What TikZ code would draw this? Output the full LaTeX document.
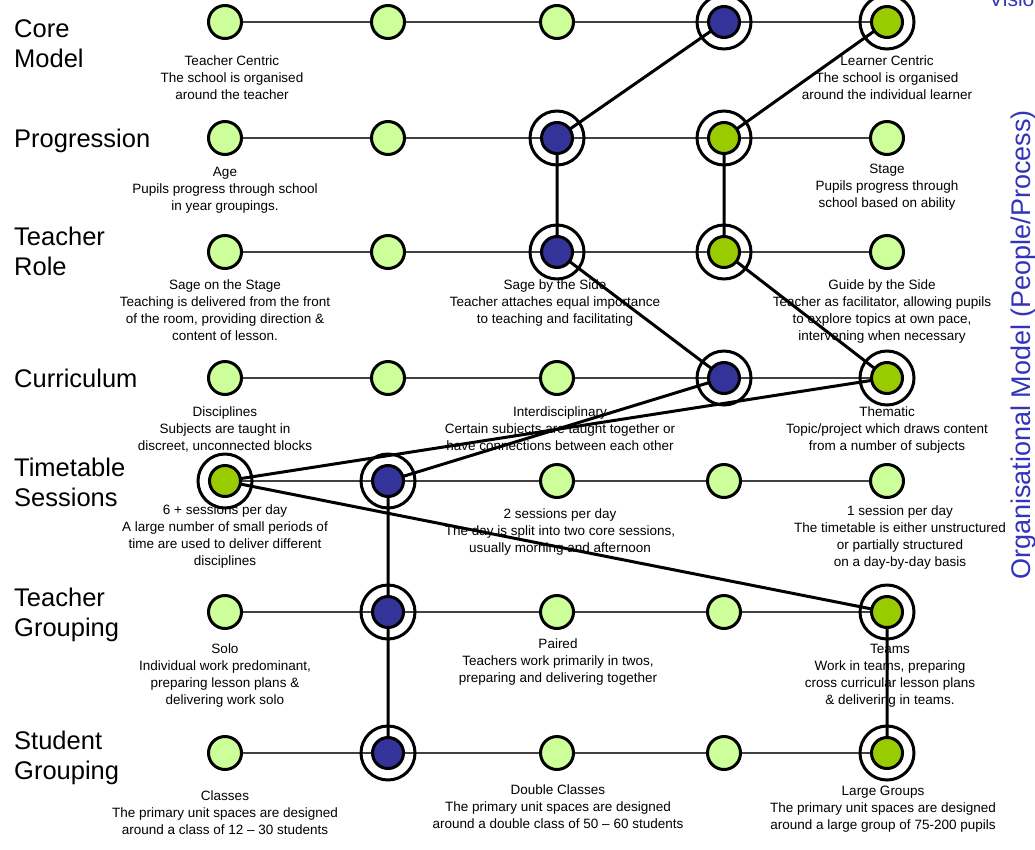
\documentclass[tikz,border=0pt]{standalone}
\usepackage{fontspec}
\setmainfont{Liberation Sans}
\definecolor{pale}{HTML}{CCFF99}
\definecolor{leaf}{HTML}{99CC00}
\definecolor{navy}{HTML}{333399}
\definecolor{titleblue}{HTML}{3333BB}
\pgfdeclarelayer{textlayer}
\pgfdeclarelayer{linelayer}
\pgfsetlayers{textlayer,linelayer,main}
\tikzset{
  opt/.style={circle, draw=black, line width=3pt, fill=pale, minimum size=33pt, inner sep=0pt},
  innerdot/.style={circle, draw=black, line width=3pt, minimum size=31pt, inner sep=0pt},
  pickb/.style={innerdot, fill=navy},
  pickg/.style={innerdot, fill=leaf},
  ring/.style={circle, draw=black, line width=3pt, minimum size=54pt, inner sep=0pt},
  desc/.style={font=\fontsize{13.5}{17}\selectfont, align=center, anchor=north, inner sep=0pt},
  rowlabel/.style={font=\fontsize{25.5}{30}\selectfont, align=left, anchor=north west, inner sep=0pt},
  track/.style={line width=2pt, draw=black!75},
  route/.style={line width=3pt, draw=black},
}
\begin{document}
\begin{tikzpicture}[x=1pt,y=-1pt]
\useasboundingbox (0,0) rectangle (1035,849);

% column and row positions
\def\ca{225}\def\cb{388}\def\cc{557}\def\cd{724}\def\ce{887}
\def\ra{22}\def\rb{138}\def\rc{252}\def\rd{378}\def\re{481}\def\rf{612}\def\rg{753}

% ---- option nodes ----
% row 1: core model
\node[opt] (n11) at (\ca,\ra) {};
\node[opt] (n12) at (\cb,\ra) {};
\node[opt] (n13) at (\cc,\ra) {};
\node[ring] (n14) at (\cd,\ra) {}; \node[pickb] (n14i) at (\cd,\ra) {};
\node[ring] (n15) at (\ce,\ra) {}; \node[pickg] (n15i) at (\ce,\ra) {};
% row 2: progression
\node[opt] (n21) at (\ca,\rb) {};
\node[opt] (n22) at (\cb,\rb) {};
\node[ring] (n23) at (\cc,\rb) {}; \node[pickb] (n23i) at (\cc,\rb) {};
\node[ring] (n24) at (\cd,\rb) {}; \node[pickg] (n24i) at (\cd,\rb) {};
\node[opt] (n25) at (\ce,\rb) {};
% row 3: teacher role
\node[opt] (n31) at (\ca,\rc) {};
\node[opt] (n32) at (\cb,\rc) {};
\node[ring] (n33) at (\cc,\rc) {}; \node[pickb] (n33i) at (\cc,\rc) {};
\node[ring] (n34) at (\cd,\rc) {}; \node[pickg] (n34i) at (\cd,\rc) {};
\node[opt] (n35) at (\ce,\rc) {};
% row 4: curriculum
\node[opt] (n41) at (\ca,\rd) {};
\node[opt] (n42) at (\cb,\rd) {};
\node[opt] (n43) at (\cc,\rd) {};
\node[ring] (n44) at (\cd,\rd) {}; \node[pickb] (n44i) at (\cd,\rd) {};
\node[ring] (n45) at (\ce,\rd) {}; \node[pickg] (n45i) at (\ce,\rd) {};
% row 5: timetable sessions
\node[ring] (n51) at (\ca,\re) {}; \node[pickg] (n51i) at (\ca,\re) {};
\node[ring] (n52) at (\cb,\re) {}; \node[pickb] (n52i) at (\cb,\re) {};
\node[opt] (n53) at (\cc,\re) {};
\node[opt] (n54) at (\cd,\re) {};
\node[opt] (n55) at (\ce,\re) {};
% row 6: teacher grouping
\node[opt] (n61) at (\ca,\rf) {};
\node[ring] (n62) at (\cb,\rf) {}; \node[pickb] (n62i) at (\cb,\rf) {};
\node[opt] (n63) at (\cc,\rf) {};
\node[opt] (n64) at (\cd,\rf) {};
\node[ring] (n65) at (\ce,\rf) {}; \node[pickg] (n65i) at (\ce,\rf) {};
% row 7: student grouping
\node[opt] (n71) at (\ca,\rg) {};
\node[ring] (n72) at (\cb,\rg) {}; \node[pickb] (n72i) at (\cb,\rg) {};
\node[opt] (n73) at (\cc,\rg) {};
\node[opt] (n74) at (\cd,\rg) {};
\node[ring] (n75) at (\ce,\rg) {}; \node[pickg] (n75i) at (\ce,\rg) {};

% ---- tracks and chosen routes ----
\begin{pgfonlayer}{linelayer}
\foreach \r in {1,...,7}{
  \draw[track] (n\r1.center) -- (n\r2.center) -- (n\r3.center) -- (n\r4.center) -- (n\r5.center);
}
\draw[route] (n14.center) -- (n23.center) -- (n33.center) -- (n44.center)
  -- (n52.center) -- (n62.center) -- (n72.center);
\draw[route] (n15.center) -- (n24.center) -- (n34.center) -- (n45.center)
  -- (n51.center) -- (n65.center) -- (n75.center);
\end{pgfonlayer}

% ---- texts ----
\begin{pgfonlayer}{textlayer}
\node[rowlabel] (l1) at (14,19) {Core\\Model};
\node[rowlabel] (l2) at (14,129) {Progression};
\node[rowlabel] (l3) at (14,227) {Teacher\\Role};
\node[rowlabel] (l4) at (14,369) {Curriculum};
\node[rowlabel] (l5) at (14,458) {Timetable\\Sessions};
\node[rowlabel] (l6) at (14,588) {Teacher\\Grouping};
\node[rowlabel] (l7) at (14,731) {Student\\Grouping};

\node[desc] (d11) at (232,56) {Teacher Centric\\The school is organised\\around the teacher};
\node[desc] (d15) at (887,56) {Learner Centric\\The school is organised\\around the individual learner};
\node[desc] (d21) at (225,167) {Age\\Pupils progress through school\\in year groupings.};
\node[desc] (d25) at (887,164) {Stage\\Pupils progress through\\school based on ability};
\node[desc] (d31) at (225,280) {Sage on the Stage\\Teaching is delivered from the front\\of the room, providing direction \&\\content of lesson.};
\node[desc] (d33) at (555,280) {Sage by the Side\\Teacher attaches equal importance\\to teaching and facilitating};
\node[desc] (d35) at (882,280) {Guide by the Side\\Teacher as facilitator, allowing pupils\\to explore topics at own pace,\\intervening when necessary};
\node[desc] (d41) at (225,407) {Disciplines\\Subjects are taught in\\discreet, unconnected blocks};
\node[desc] (d43) at (560,407) {Interdisciplinary\\Certain subjects are taught together or\\have connections between each other};
\node[desc] (d45) at (887,407) {Thematic\\Topic/project which draws content\\from a number of subjects};
\node[desc] (d51) at (225,505) {6 + sessions per day\\A large number of small periods of\\time are used to deliver different\\disciplines};
\node[desc] (d53) at (560,509) {2 sessions per day\\The day is split into two core sessions,\\usually morning and afternoon};
\node[desc] (d55) at (900,506) {1 session per day\\The timetable is either unstructured\\or partially structured\\on a day-by-day basis};
\node[desc] (d61) at (225,644) {Solo\\Individual work predominant,\\preparing lesson plans \&\\delivering work solo};
\node[desc] (d63) at (558,639) {Paired\\Teachers work primarily in twos,\\preparing and delivering together};
\node[desc] (d65) at (890,644) {Teams\\Work in teams, preparing\\cross curricular lesson plans\\\& delivering in teams.};
\node[desc] (d71) at (225,791) {Classes\\The primary unit spaces are designed\\around a class of 12 -- 30 students};
\node[desc] (d73) at (558,785) {Double Classes\\The primary unit spaces are designed\\around a double class of 50 -- 60 students};
\node[desc] (d75) at (883,786) {Large Groups\\The primary unit spaces are designed\\around a large group of 75-200 pupils};

% side headings, running off the right and top edges
\node[font=\fontsize{27}{30}\selectfont, text=titleblue, rotate=90, anchor=north, inner sep=0pt]
  (side) at (1011,345) {Organisational Model (People/Process)};
\node[font=\fontsize{21}{24}\selectfont, text=titleblue, anchor=base west, inner sep=0pt]
  (top) at (989,6) {Vision};
\end{pgfonlayer}
\end{tikzpicture}
\end{document}
